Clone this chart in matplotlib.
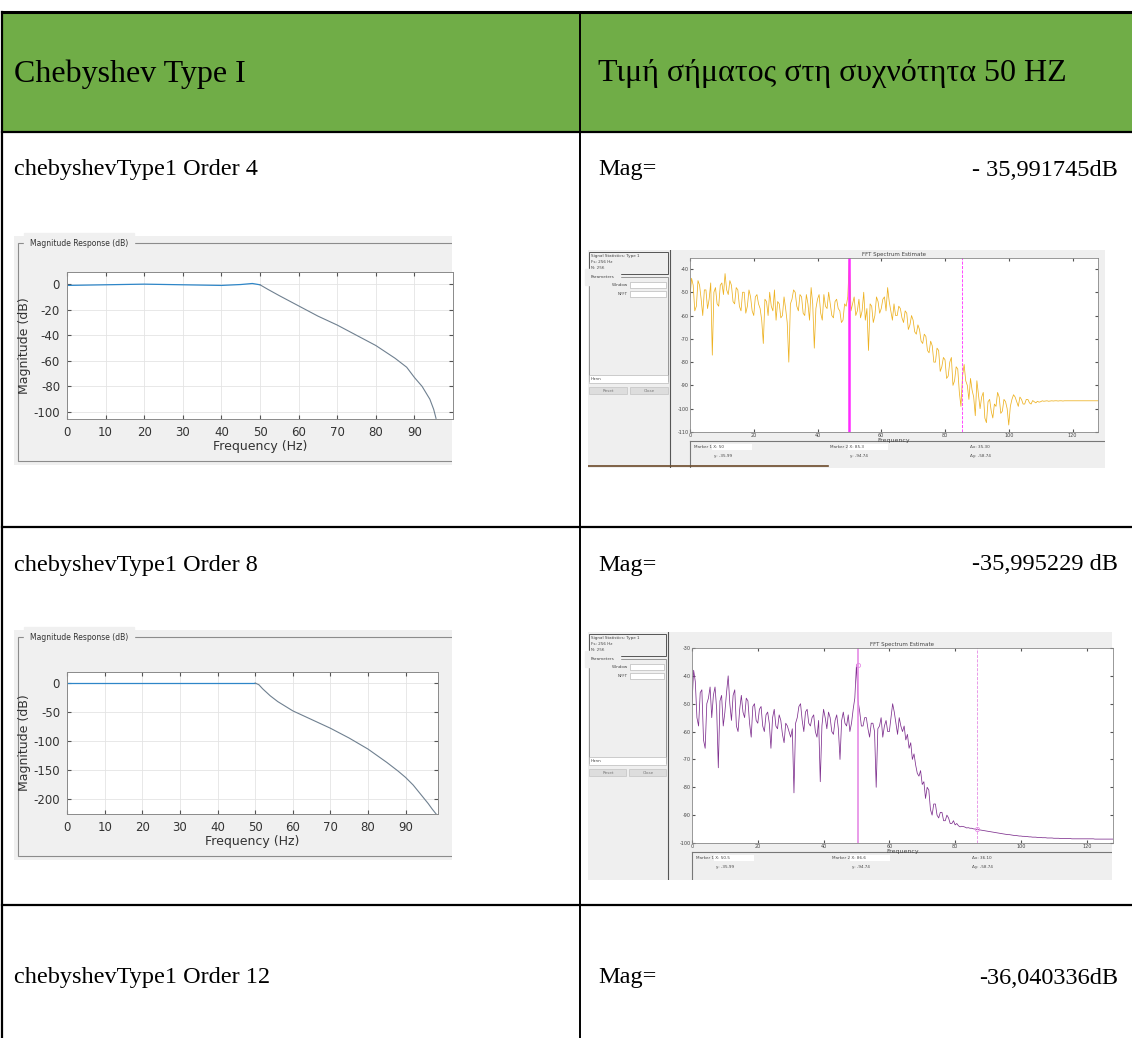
# Chebyshev Type I table: filter responses and FFT spectrum screenshots
import matplotlib
matplotlib.use('Agg')
import matplotlib.pyplot as plt
import numpy as np
from matplotlib.patches import Rectangle

plt.rcParams['axes.unicode_minus'] = False

W, H = 1132, 1038

# ---- table text ----
header = ['Chebyshev Type I', 'Τιμή σήματος στη συχνότητα 50 HZ']
row_names = ['chebyshevType1 Order 4', 'chebyshevType1 Order 8', 'chebyshevType1 Order 12']
mag_values = ['- 35,991745dB', '-35,995229 dB', '-36,040336dB']

# ---- magnitude response, order 4 ----
f_o4 = [0, 10, 20, 30, 40, 45, 48, 50, 52, 55, 60, 65, 70, 75, 80, 85, 88, 90, 92, 94, 95, 95.6]
m_o4 = [-1, -0.5, 0, -0.5, -1, -0.3, 0.5, -0.5, -4, -9, -17, -25, -32, -40, -48, -58, -65, -73, -80, -90, -98, -105]

# ---- magnitude response, order 8 ----
f_o8 = [0, 10, 20, 30, 40, 45, 50, 51, 52, 54, 56, 60, 65, 70, 75, 80, 85, 88, 90, 92, 94, 96, 97, 98.1]
m_o8 = [0, 0, 0, 0, 0, 0, 0, -3, -10, -22, -32, -48, -63, -78, -95, -114, -137, -152, -163, -176, -192, -208, -217, -226]

# ---- FFT spectra, one value every 0.5 Hz from 0 to 128 Hz ----
spec_freq = np.arange(0, 128.5, 0.5)

spec_o4 = [-52, -44, -47, -58, -56, -45, -47, -53, -60, -49,
           -49, -57, -53, -46, -77, -50, -48, -55, -56, -47,
           -46, -51, -42, -49, -51, -45, -47, -54, -55, -48,
           -49, -56, -58, -50, -50, -59, -56, -49, -52, -58,
           -60, -52, -51, -55, -57, -62, -72, -53, -54, -60,
           -50, -56, -58, -49, -62, -54, -55, -61, -60, -52,
           -57, -63, -80, -55, -53, -49, -50, -56, -58, -51,
           -52, -59, -60, -51, -55, -62, -48, -55, -74, -57,
           -53, -51, -59, -62, -51, -56, -57, -50, -55, -60,
           -61, -54, -53, -57, -58, -63, -62, -55, -56, -52,
           -36, -58, -55, -52, -60, -58, -53, -61, -58, -50,
           -62, -57, -75, -55, -56, -63, -60, -52, -54, -59,
           -57, -53, -52, -58, -48, -54, -58, -62, -55, -60,
           -60, -56, -57, -61, -63, -58, -59, -66, -64, -60,
           -62, -67, -68, -64, -66, -71, -72, -68, -69, -75,
           -76, -71, -73, -80, -80, -74, -75, -84, -82, -78,
           -79, -87, -86, -80, -78, -90, -88, -82, -83, -93,
           -99, -86, -81, -88, -90, -96, -87, -92, -95, -103,
           -88, -94, -100, -95, -93, -104, -106, -97, -96, -101,
           -104, -98, -99, -93, -95, -102, -101, -96, -97, -100,
           -107, -99, -96, -94, -95, -97, -99, -95, -96, -98,
           -98, -96, -96, -97.5, -98, -96.5, -97, -97.5, -96.8, -97.2,
           -97, -96.6, -96.8, -96.7, -96.6, -96.8, -96.7, -96.6, -96.7, -96.6,
           -96.6, -96.7, -96.6, -96.6, -96.7, -96.6, -96.6, -96.6, -96.6, -96.6,
           -96.6, -96.6, -96.6, -96.6, -96.6, -96.6, -96.6, -96.6, -96.6, -96.6,
           -96.6, -96.6, -96.6, -96.6, -96.6, -96.6, -96.6]

spec_o8 = [-50, -38, -42, -55, -58, -46, -45, -63, -66, -50,
           -48, -44, -55, -47, -44, -52, -73, -49, -47, -58,
           -53, -46, -40, -50, -56, -47, -45, -58, -60, -52,
           -47, -53, -55, -48, -49, -57, -62, -51, -50, -56,
           -57, -52, -51, -58, -60, -54, -53, -57, -66, -55,
           -52, -58, -59, -54, -56, -61, -64, -57, -58, -60,
           -62, -59, -82, -57, -55, -51, -50, -56, -60, -53,
           -52, -57, -58, -55, -54, -60, -62, -56, -78, -58,
           -52, -55, -59, -53, -55, -60, -61, -56, -54, -59,
           -70, -56, -53, -57, -58, -54, -60, -57, -52, -48,
           -36, -49, -53, -58, -58, -55, -55, -59, -62, -57,
           -57, -60, -80, -59, -58, -55, -62, -58, -56, -60,
           -60, -55, -50, -53, -57, -61, -55, -58, -60, -58,
           -63, -61, -66, -64, -70, -68, -72, -75, -76, -74,
           -79, -78, -84, -80, -81, -88, -90, -86, -86, -90,
           -91, -89, -89, -92, -92, -90, -91, -93, -93, -92,
           -93.5, -93, -93.8, -94.2, -94, -94.1, -94.3, -94.6, -94.5, -94.7,
           -94.7, -94.9, -95.0, -95.1, -95.2, -95.3, -95.4, -95.5, -95.6, -95.7,
           -95.8, -95.9, -96.0, -96.1, -96.2, -96.3, -96.4, -96.5, -96.6, -96.7,
           -96.8, -96.9, -97.0, -97.0, -97.1, -97.2, -97.3, -97.3, -97.4, -97.5,
           -97.5, -97.6, -97.6, -97.7, -97.7, -97.8, -97.8, -97.9, -97.9, -97.9,
           -98.0, -98.0, -98.0, -98.1, -98.1, -98.1, -98.2, -98.2, -98.2, -98.2,
           -98.3, -98.3, -98.3, -98.3, -98.4, -98.4, -98.4, -98.4, -98.4, -98.4,
           -98.4, -98.5, -98.5, -98.5, -98.5, -98.5, -98.5, -98.5, -98.5, -98.5,
           -98.5, -98.5, -98.5, -98.5, -98.5, -98.6, -98.6, -98.6, -98.6, -98.6,
           -98.6, -98.6, -98.6, -98.6, -98.6, -98.6, -98.6]

marker_f_o4 = [50, 85.3]
marker_f_o8 = [50.5, 86.6]
marker_y_o8 = [-35.995229, -95.0]


def rect(x0, y0, x1, y1):
    # pixel box (top-left origin) -> figure fraction
    return [x0 / W, 1 - y1 / H, (x1 - x0) / W, (y1 - y0) / H]


fig = plt.figure(figsize=(W / 100, H / 100), dpi=100)
ax = fig.add_axes([0, 0, 1, 1])
ax.set_xlim(0, W)
ax.set_ylim(H, 0)
ax.axis('off')

serif = 'Liberation Serif'

# header band and table rules
ax.add_patch(Rectangle((2, 12), W, 120, facecolor='#70AD47', edgecolor='none'))
ax.plot([2, W], [12, 12], color='black', lw=2.2)
for yy in [132, 527, 905]:
    ax.plot([2, W], [yy, yy], color='black', lw=1.6)
ax.plot([2, 2], [12, H], color='black', lw=1.6)
ax.plot([580, 580], [12, H], color='black', lw=1.4)

ax.text(14, 74, header[0], fontsize=23, family=serif, va='center', ha='left')
ax.text(598, 74, header[1], fontsize=23, family=serif, va='center', ha='left')

row_y = [170, 565, 978]
for name, val, yy in zip(row_names, mag_values, row_y):
    ax.text(14, yy, name, fontsize=17.5, family=serif, va='center', ha='left')
    ax.text(598, yy, 'Mag=', fontsize=17.5, family=serif, va='center', ha='left')
    ax.text(1118, yy, val, fontsize=17.5, family=serif, va='center', ha='right')


# ---- MATLAB filter designer screenshots ----
def magnitude_shot(top, bottom, ax_box, freqs, mags, xmax, ylim, yticks):
    bg = fig.add_axes(rect(14, top, 452, bottom))
    bg.set_xlim(14, 452)
    bg.set_ylim(bottom, top)
    bg.set_facecolor('#F0F0F0')
    bg.set_xticks([])
    bg.set_yticks([])
    for s in bg.spines.values():
        s.set_visible(False)
    bg.add_patch(Rectangle((18, top + 7), 470, bottom - top - 11, facecolor='none',
                           edgecolor='#8C8C8C', lw=0.8))
    bg.text(30, top + 7, 'Magnitude Response (dB)', fontsize=5.5, va='center',
            ha='left', color='#333333', backgroundcolor='#F0F0F0')

    p = fig.add_axes(rect(*ax_box))
    pass_f = [f for f in freqs if f <= 50]
    stop_f = [f for f in freqs if f >= 50]
    p.plot(pass_f, mags[:len(pass_f)], color='#2E86C8', lw=0.9)
    p.plot(stop_f, mags[len(freqs) - len(stop_f):], color='#6F8090', lw=0.8)
    p.set_xlim(0, xmax)
    p.set_ylim(*ylim)
    p.set_xticks(range(0, 100, 10))
    p.set_yticks(yticks)
    p.grid(True, color='#E4E4E4', lw=0.6)
    p.tick_params(direction='in', top=True, right=True, labelsize=8.5, length=3,
                  colors='#555555', labelcolor='#333333', pad=5)
    p.set_xlabel('Frequency (Hz)', fontsize=9, color='#333333', labelpad=1)
    p.set_ylabel('Magnitude (dB)', fontsize=9, color='#333333', labelpad=2)
    for s in p.spines.values():
        s.set_color('#8A8A8A')
        s.set_linewidth(0.7)


magnitude_shot(236, 465, (67, 272, 453, 419), f_o4, m_o4, 100, (-105.5, 9.5),
               [0, -20, -40, -60, -80, -100])
magnitude_shot(630, 860, (67, 672, 438, 814), f_o8, m_o8, 98.6, (-226, 19),
               [0, -50, -100, -150, -200])


# ---- FFT spectrum screenshots ----
def fft_shot(box, side_right, ax_box, spec, color, ylim, yticks, mk_f, mk_color,
             solid_lw, mk_y=None, taskbar=False):
    x0, y0, x1, y1 = box
    bg = fig.add_axes(rect(*box))
    bg.set_xlim(x0, x1)
    bg.set_ylim(y1, y0)
    bg.set_facecolor('#EFEFEF')
    bg.set_xticks([])
    bg.set_yticks([])
    for s in bg.spines.values():
        s.set_visible(False)
    # side panel
    bg.plot([side_right, side_right], [y0, y1], color='#555555', lw=0.8)
    bg.add_patch(Rectangle((x0 + 1, y0 + 2), side_right - x0 - 3, 22, facecolor='none',
                           edgecolor='#555555', lw=0.7))
    bg.text(x0 + 3, y0 + 7, 'Signal Statistics: Type 1', fontsize=3, color='#444444')
    bg.text(x0 + 3, y0 + 13, 'Fs: 256 Hz', fontsize=3, color='#444444')
    bg.text(x0 + 3, y0 + 19, 'N: 256', fontsize=3, color='#444444')
    bg.add_patch(Rectangle((x0 + 1, y0 + 27), side_right - x0 - 3, 104, facecolor='none',
                           edgecolor='#888888', lw=0.6))
    bg.text(x0 + 3, y0 + 27, 'Parameters', fontsize=3, color='#444444',
            backgroundcolor='#EFEFEF', va='center')
    bg.add_patch(Rectangle((x0 + 42, y0 + 32), side_right - x0 - 46, 6, facecolor='white',
                           edgecolor='#AAAAAA', lw=0.4))
    bg.text(x0 + 40, y0 + 35, 'Window', fontsize=3, color='#444444', ha='right', va='center')
    bg.add_patch(Rectangle((x0 + 42, y0 + 41), side_right - x0 - 46, 6, facecolor='white',
                           edgecolor='#AAAAAA', lw=0.4))
    bg.text(x0 + 40, y0 + 44, 'NFFT', fontsize=3, color='#444444', ha='right', va='center')
    bg.add_patch(Rectangle((x0 + 1, y0 + 125), side_right - x0 - 3, 8, facecolor='white',
                           edgecolor='#AAAAAA', lw=0.4))
    bg.text(x0 + 3, y0 + 129, 'Hann', fontsize=3, color='#444444', va='center')
    mid = (x0 + side_right) / 2
    bg.add_patch(Rectangle((x0 + 1, y0 + 137), mid - x0 - 3, 7, facecolor='#DDDDDD',
                           edgecolor='#BBBBBB', lw=0.4))
    bg.add_patch(Rectangle((mid + 1, y0 + 137), side_right - mid - 3, 7, facecolor='#DDDDDD',
                           edgecolor='#BBBBBB', lw=0.4))
    bg.text((x0 + mid) / 2, y0 + 140.5, 'Reset', fontsize=3, color='#777777',
            ha='center', va='center')
    bg.text((mid + side_right) / 2, y0 + 140.5, 'Close', fontsize=3, color='#777777',
            ha='center', va='center')
    # marker readout panel
    ax_x0, ax_y0, ax_x1, ax_y1 = ax_box
    py = ax_y1 + 9
    bg.plot([ax_x0, x1], [py, py], color='#777777', lw=0.8)
    bg.plot([ax_x0, ax_x0], [py, y1], color='#777777', lw=0.8)
    bg.add_patch(Rectangle((ax_x0 + 22, py + 3), 40, 6, facecolor='white', edgecolor='none'))
    bg.add_patch(Rectangle((ax_x0 + 158, py + 3), 40, 6, facecolor='white', edgecolor='none'))
    bg.text(ax_x0 + 4, py + 6, 'Marker 1 X: %g' % mk_f[0], fontsize=3, color='#444444', va='center')
    bg.text(ax_x0 + 140, py + 6, 'Marker 2 X: %g' % mk_f[1], fontsize=3, color='#444444', va='center')
    bg.text(ax_x0 + 280, py + 6, 'Δx: %.2f' % (mk_f[1] - mk_f[0]), fontsize=3,
            color='#444444', va='center')
    bg.text(ax_x0 + 24, py + 15, 'y: -35.99', fontsize=3, color='#444444', va='center')
    bg.text(ax_x0 + 160, py + 15, 'y: -94.74', fontsize=3, color='#444444', va='center')
    bg.text(ax_x0 + 280, py + 15, 'Δy: -58.74', fontsize=3, color='#444444', va='center')
    if taskbar:
        bg.plot([x0, x0 + 240], [y1 - 2, y1 - 2], color='#6B4A2A', lw=1.2)

    p = fig.add_axes(rect(*ax_box))
    p.plot(spec_freq, spec, color=color, lw=0.55)
    p.axvline(mk_f[0], color=mk_color, lw=solid_lw)
    p.axvline(mk_f[1], color=mk_color, lw=0.6, ls='--')
    if mk_y is not None:
        p.plot(mk_f, mk_y, 'o', mfc='none', mec=mk_color, ms=3, mew=0.6)
    p.set_xlim(0, 128)
    p.set_ylim(*ylim)
    p.set_xticks(range(0, 129, 20))
    p.set_yticks(yticks)
    p.tick_params(direction='in', top=True, right=True, labelsize=3.5, length=2,
                  colors='#555555', labelcolor='#444444', pad=1)
    p.set_title('FFT Spectrum Estimate', fontsize=4, color='#444444', pad=1.5)
    p.set_xlabel('Frequency', fontsize=4.5, color='#444444', labelpad=0)
    for s in p.spines.values():
        s.set_color('#888888')
        s.set_linewidth(0.6)


fft_shot((588, 250, 1105, 468), 670, (690, 258, 1098, 432), spec_o4, '#EDB120',
         (-110, -35.3), list(range(-110, -35, 10)), marker_f_o4, '#FF2BFF', 1.8,
         taskbar=True)
fft_shot((588, 632, 1112, 880), 668, (692, 648, 1113, 843), spec_o8, '#7E2F8E',
         (-100, -30), list(range(-100, -29, 10)), marker_f_o8, '#E58BE5', 1.2,
         marker_y_o8)

fig.savefig('out.png', dpi=100)
